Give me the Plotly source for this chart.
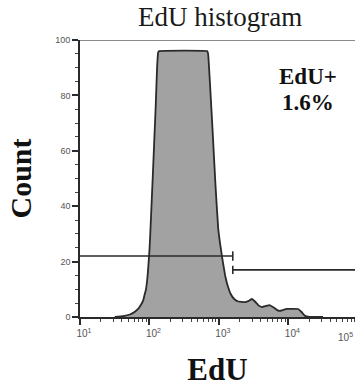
import numpy as np
import plotly.graph_objects as go

# Histogram of EdU fluorescence: bin position (log10 of intensity) and event count
edu_log10 = [1.50, 1.62, 1.72, 1.79, 1.84, 1.88, 1.91, 1.93, 1.95, 1.97,
             1.98, 2.00, 2.01, 2.05, 2.09, 2.11, 2.125, 2.14,
             2.83, 2.845, 2.87, 2.91, 2.95, 2.99, 3.02, 3.05, 3.09, 3.13,
             3.17, 3.22, 3.28, 3.38, 3.43, 3.475, 3.52, 3.57, 3.62, 3.67,
             3.73, 3.79, 3.84, 3.88, 3.93, 3.98, 4.06, 4.14, 4.19, 4.24,
             4.30, 4.34, 4.50]
event_count = [0, 0.3, 0.9, 1.9, 3.0, 4.5, 6.0, 8.0, 10, 14,
               17, 24, 29, 52, 76, 90, 95.5, 96,
               96, 95, 85, 67, 48, 32, 26, 21, 15, 11,
               8.3, 6.5, 5.6, 5.4, 5.8, 6.5, 5.6, 4.2, 3.6, 3.9,
               4.3, 3.4, 2.5, 2.2, 2.6, 2.9, 2.95, 2.9, 1.8, 0.4,
               0.05, 0, 0]

# Gates: EdU- (left) and EdU+ (right), split at the same intensity
gate_start = 10
gate_split = 1585
gate_end = 100000
gate_levels = [22, 17]
gate_bar_half = [1.7, 1.5]

decade_vals = [10, 100, 1000, 10000]
decade_text = ["10<sup>1</sup>", "10<sup>2</sup>", "10<sup>3</sup>", "10<sup>4</sup>"]
minor_vals = [m * d for d in [10, 100, 1000, 10000] for m in range(2, 10)]

positive_pct = 1.6

ink = "#2a2a2a"
serif = "Liberation Serif, Times New Roman, serif"
sans = "Liberation Sans, Arial, sans-serif"
x_range = [1.0, 4.96]

fig = go.Figure()

fig.add_trace(go.Scatter(
    x=np.power(10.0, edu_log10), y=event_count, mode="lines",
    line=dict(color=ink, width=1.8, shape="spline", smoothing=0.25),
    fill="tozeroy", fillcolor="#a2a2a2", hoverinfo="skip",
))

# left gate line with its right end bar
fig.add_trace(go.Scatter(
    x=[gate_start, gate_split, None, gate_split, gate_split],
    y=[gate_levels[0], gate_levels[0], None,
       gate_levels[0] - gate_bar_half[0], gate_levels[0] + gate_bar_half[0]],
    mode="lines", line=dict(color=ink, width=1.6), hoverinfo="skip",
))
# right gate line with its left end bar
fig.add_trace(go.Scatter(
    x=[gate_split, gate_end, None, gate_split, gate_split],
    y=[gate_levels[1], gate_levels[1], None,
       gate_levels[1] - gate_bar_half[1], gate_levels[1] + gate_bar_half[1]],
    mode="lines", line=dict(color=ink, width=1.6), hoverinfo="skip",
))

fig.update_layout(
    width=355, height=387,
    margin=dict(l=80, r=0, t=40, b=70),
    paper_bgcolor="white", plot_bgcolor="white",
    showlegend=False,
    title=dict(text="EdU histogram", x=0.62, xanchor="center",
               y=0.956, yanchor="middle",
               font=dict(family=serif, size=27, color="#1a1a1a")),
    xaxis=dict(
        type="log", range=x_range,
        showgrid=False, zeroline=False,
        showline=True, linecolor=ink, linewidth=1.6,
        ticks="outside", ticklen=6, tickwidth=1.8, tickcolor=ink,
        tickvals=decade_vals, ticktext=decade_text,
        ticklabelshift=4,
        tickfont=dict(family=sans, size=10, color="#555"),
        minor=dict(tickvals=minor_vals, ticks="outside", ticklen=3,
                   tickwidth=1.4, tickcolor="#444"),
        title=dict(text="<b>EdU</b>", standoff=22,
                   font=dict(family=serif, size=31, color="#111")),
    ),
    yaxis=dict(
        range=[0, 100],
        showgrid=False, zeroline=False,
        showline=True, linecolor=ink, linewidth=1.6,
        ticks="outside", ticklen=6, tickwidth=1.8, tickcolor=ink,
        dtick=20,
        tickfont=dict(family=sans, size=9, color="#555"),
        minor=dict(dtick=5, ticks="outside", ticklen=3,
                   tickwidth=1.4, tickcolor="#444"),
        title=dict(text="<b>Count</b>", standoff=15,
                   font=dict(family=serif, size=30, color="#111")),
    ),
    shapes=[dict(type="line", xref="paper", yref="y", x0=0, x1=1, y0=100, y1=100,
                 line=dict(color="#8a8a8a", width=1.8))],
    annotations=[
        dict(text="<b>EdU+</b>", xref="paper", yref="y", x=0.83, y=87,
             showarrow=False, xanchor="center", yanchor="middle",
             font=dict(family=serif, size=23, color="#111")),
        dict(text=f"<b>{positive_pct}%</b>", xref="paper", yref="y", x=0.83, y=77.5,
             showarrow=False, xanchor="center", yanchor="middle",
             font=dict(family=serif, size=23, color="#111")),
        # last decade label, held at the right edge of the axis
        dict(text="10<sup>5</sup>", xref="paper", yref="paper",
             x=1, y=0, yshift=-12,
             showarrow=False, xanchor="right", yanchor="top",
             font=dict(family=sans, size=10, color="#555")),
    ],
)

fig.write_html("out.html")
